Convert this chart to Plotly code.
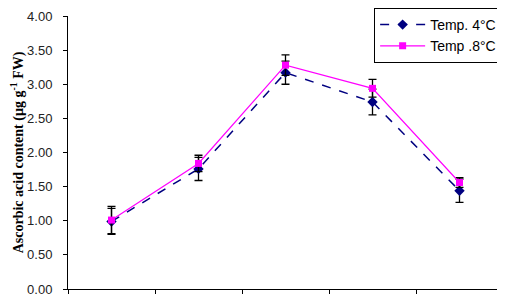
import plotly.graph_objects as go

categories = [1, 2, 3, 4, 5]
temp4_values = [0.99, 1.76, 3.17, 2.74, 1.44]
temp4_err = [0.19, 0.17, 0.17, 0.19, 0.17]
temp8_values = [1.01, 1.84, 3.28, 2.94, 1.56]
temp8_err = [0.20, 0.12, 0.15, 0.13, 0.07]
y_ticks = [0, 0.5, 1.0, 1.5, 2.0, 2.5, 3.0, 3.5, 4.0]
x_tick_positions = [0.5, 1.5, 2.5, 3.5, 4.5, 5.5]

fig = go.Figure()
fig.add_trace(go.Scatter(
    x=categories, y=temp4_values, name="Temp. 4°C", mode="lines+markers",
    line=dict(color="#000080", width=1.5, dash="dash"),
    marker=dict(symbol="diamond", size=8, color="#000080"),
    error_y=dict(type="data", array=temp4_err, visible=True, color="black", thickness=1.3, width=4),
))
fig.add_trace(go.Scatter(
    x=categories, y=temp8_values, name="Temp .8°C", mode="lines+markers",
    line=dict(color="#FF00FF", width=1.2),
    marker=dict(symbol="square", size=7, color="#FF00FF"),
    error_y=dict(type="data", array=temp8_err, visible=True, color="black", thickness=1.3, width=4),
))

fig.update_layout(
    width=497, height=290,
    margin=dict(l=60, r=2, t=8, b=9, autoexpand=False),
    paper_bgcolor="white", plot_bgcolor="white",
    font=dict(family="Liberation Sans", size=13, color="#222"),
    showlegend=True,
    legend=dict(
        x=0.998, xanchor="right", xref="paper",
        y=1.0, yanchor="top", yref="container",
        bordercolor="black", borderwidth=1, bgcolor="white",
        font=dict(family="Liberation Sans", size=14, color="black"),
        tracegroupgap=0, itemwidth=45,
    ),
    xaxis=dict(
        range=[0.5, 5.5], tickvals=x_tick_positions, ticktext=[""] * len(x_tick_positions),
        ticks="outside", ticklen=4, tickcolor="black", showgrid=False, zeroline=False,
        showline=True, linecolor="black", linewidth=1,
    ),
    yaxis=dict(
        range=[0, 4.0], tickvals=y_ticks, tickformat=".2f",
        ticks="outside", ticklen=4, tickcolor="black", showgrid=False, zeroline=False,
        showline=True, linecolor="black", linewidth=1, ticklabelstandoff=8,
        ticklabeloverflow="allow",
        tickfont=dict(family="Liberation Sans", size=13, color="#222"),
        title=dict(text="<b>Ascorbic acid content (µg g<sup>-1</sup> FW)</b>",
                   font=dict(family="Liberation Serif", size=14, color="black"),
                   standoff=8),
    ),
)

fig.write_html("out.html")
